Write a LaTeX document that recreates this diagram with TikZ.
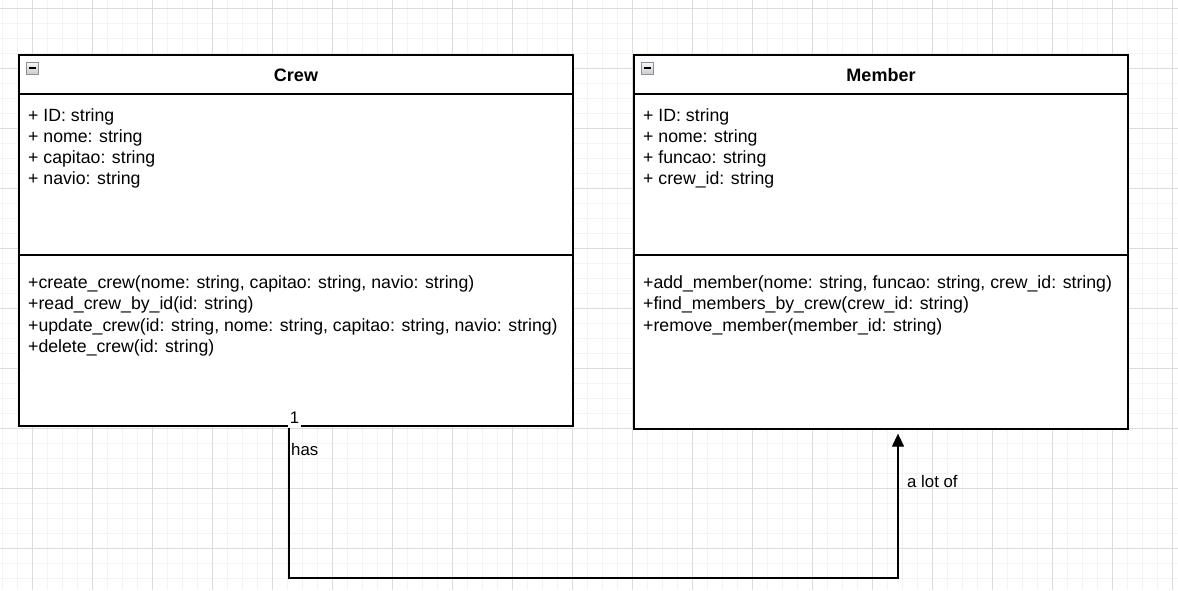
\documentclass[tikz,border=0pt]{standalone}
\usepackage{fontspec}
\setmainfont{Liberation Sans}
\usetikzlibrary{arrows.meta,positioning}
\definecolor{gridminor}{HTML}{F3F3F3}
\definecolor{gridmajor}{HTML}{DCDCDC}
\definecolor{iconedge}{HTML}{8A8F9A}

\begin{document}
\begin{tikzpicture}[x=1pt,y=-1pt,
  classbox/.style={draw=black,line width=1.3pt,fill=white,inner sep=0pt},
  classtitle/.style={font=\fontsize{18}{21}\selectfont\bfseries,anchor=base,inner sep=0pt},
  membertext/.style={font=\fontsize{17.7}{21}\selectfont,anchor=base west,inner sep=0pt},
  linklabel/.style={font=\fontsize{16.8}{20}\selectfont,inner sep=0pt},
  connector/.style={line width=1.3pt,-{Triangle[length=13pt,width=12pt]},shorten >=4pt}]
  \useasboundingbox (0,0) rectangle (1178,590);
  \fill[white] (0,0) rectangle (1178,590);

  % background grid
  \foreach \gx in {2,17,...,1178} \draw[gridminor,line width=1pt] (\gx,0) -- (\gx,590);
  \foreach \gy in {8,23,...,590} \draw[gridminor,line width=1pt] (0,\gy) -- (1178,\gy);
  \foreach \gx in {32,92,...,1178} \draw[gridmajor,line width=1pt] (\gx,0) -- (\gx,590);
  \foreach \gy in {8,68,...,590} \draw[gridmajor,line width=1pt] (0,\gy) -- (1178,\gy);

  % class boxes
  \node[classbox,minimum width=554pt,minimum height=371pt] (crew) at (296,240.5) {};
  \node[classbox,minimum width=494pt,minimum height=374pt] (member) at (881,242) {};
  \coordinate (headline) at (0,94);
  \coordinate (opsline) at (0,255);
  \foreach \cls in {crew,member} {
    \draw[line width=1.3pt] (\cls.west |- headline) -- (\cls.east |- headline);
    \draw[line width=1.3pt] (\cls.west |- opsline) -- (\cls.east |- opsline);
  }

  % collapse icons
  \foreach \ix in {26,641} {
    \draw[iconedge,top color=gray!5,bottom color=gray!40,line width=1pt] (\ix,62) rectangle ++(12,12);
    \draw[black,line width=1.8pt] (\ix+2.5,68) -- ++(7,0);
  }

  % titles
  \node[classtitle] (crewtitle) at (296,81.5) {Crew};
  \node[classtitle] (membertitle) at (881,81.5) {Member};

  % Crew
  \foreach \txt [count=\i from 0] in {{+ ID: string},{+ nome: string},{+ capitao: string},{+ navio: string}}
    \node[membertext] (crewattr\i) at (28,121+21.3*\i) {\txt};
  \foreach \txt [count=\i from 0] in {{+create\_crew(nome: string, capitao: string, navio: string)},
      {+read\_crew\_by\_id(id: string)},
      {+update\_crew(id: string, nome: string, capitao: string, navio: string)},
      {+delete\_crew(id: string)}}
    \node[membertext] (crewop\i) at (28,288.5+21.3*\i) {\txt};

  % Member
  \foreach \txt [count=\i from 0] in {{+ ID: string},{+ nome: string},{+ funcao: string},{+ crew\_id: string}}
    \node[membertext] (memberattr\i) at (643,121+21.3*\i) {\txt};
  \foreach \txt [count=\i from 0] in {{+add\_member(nome: string, funcao: string, crew\_id: string)},
      {+find\_members\_by\_crew(crew\_id: string)},
      {+remove\_member(member\_id: string)}}
    \node[membertext] (memberop\i) at (643,288.5+21.3*\i) {\txt};

  % association
  \coordinate (hasbend) at (289,578);
  \coordinate (lotbend) at (898,578);
  \draw[connector] (crew.south -| hasbend) -- (hasbend) -- (lotbend) -- (member.south -| lotbend);
  \node[linklabel,fill=white,inner xsep=2pt,minimum height=20pt] (crewmult) at (294.5,417.5) {1};
  \node[linklabel,anchor=base west] (haslabel) at (291,455) {has};
  \node[linklabel,anchor=base west] (lotlabel) at (907,487) {a lot of};
\end{tikzpicture}
\end{document}
